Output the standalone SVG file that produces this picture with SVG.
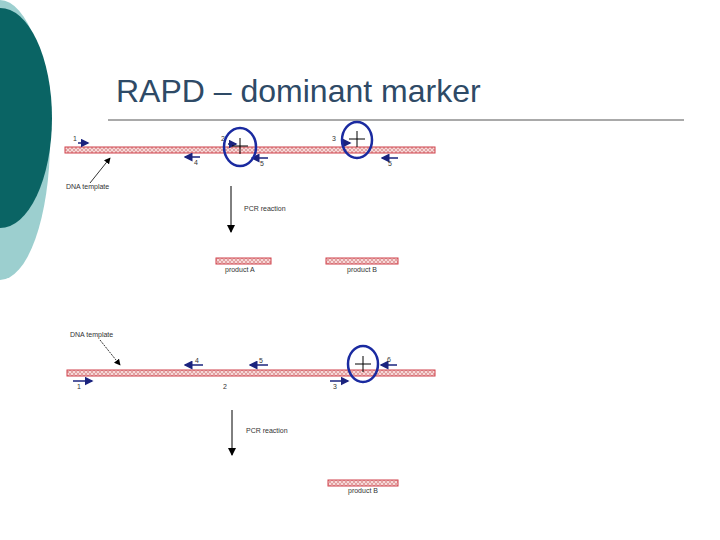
<svg xmlns="http://www.w3.org/2000/svg" width="720" height="540" viewBox="0 0 720 540">
<defs>
<pattern id="hatch" width="4" height="4" patternUnits="userSpaceOnUse"><rect width="4" height="4" fill="#f6d8d8"/><path d="M0,0L4,4M4,0L0,4" stroke="#d98a8a" stroke-width="0.7"/></pattern>
<marker id="ah" markerWidth="6" markerHeight="6" refX="5" refY="3" orient="auto"><path d="M0,0L6,3L0,6z" fill="#1a237e"/></marker>
<marker id="bh" markerWidth="8" markerHeight="8" refX="7" refY="4" orient="auto"><path d="M0,0L8,4L0,8z" fill="#000"/></marker>
</defs>
<style>
.strand{fill:url(#hatch);stroke:#d0404a;stroke-width:1}
.pr{stroke:#1a237e;stroke-width:1.5;marker-end:url(#ah)}
.t{font-family:"Liberation Sans",sans-serif;font-size:7px;fill:#333}
.c{fill:none;stroke:#1a2aa0;stroke-width:2.5}
.plus{stroke:#000;stroke-width:1}
</style>
<rect width="720" height="540" fill="#fff"/>
<ellipse cx="0" cy="140" rx="50" ry="140" fill="#9ccfcf"/>
<ellipse cx="0" cy="118" rx="52" ry="110" fill="#0a6464"/>
<text x="116" y="102" font-family="Liberation Sans,sans-serif" font-size="32" fill="#2e4a66">RAPD – dominant marker</text>
<line x1="108" y1="120" x2="684" y2="120" stroke="#555" stroke-width="1"/>
<g id="top">
<rect class="strand" x="65" y="147" width="370" height="6"/>
<g id="connectors-top">
<line class="pr" x1="78" y1="143" x2="88" y2="143"/>
<line class="pr" x1="200" y1="157" x2="185" y2="157"/>
<line class="pr" x1="228" y1="144" x2="236" y2="144"/>
<line class="pr" x1="268" y1="158" x2="252" y2="158"/>
<line class="pr" x1="343" y1="143" x2="350" y2="143"/>
<line class="pr" x1="398" y1="158" x2="382" y2="158"/>
<line x1="90" y1="183" x2="110" y2="158" stroke="#000" stroke-width="0.8" marker-end="url(#bh)"/>
<line x1="231" y1="186" x2="231" y2="232" stroke="#000" stroke-width="1" marker-end="url(#bh)"/>
</g>
<text class="t" x="73" y="141">1</text><text class="t" x="194" y="165">4</text>
<text class="t" x="221" y="141">2</text><text class="t" x="260" y="166">5</text>
<text class="t" x="332" y="141">3</text><text class="t" x="388" y="166">5</text>
<ellipse class="c" cx="240" cy="147" rx="16" ry="19"/>
<path class="plus" d="M232,146h16M240,138v16"/>
<ellipse class="c" cx="357" cy="140" rx="15" ry="18"/>
<path class="plus" d="M349,139h16M357,131v16"/>
<text class="t" x="66" y="189">DNA template</text>
<text class="t" x="244" y="211">PCR reaction</text>
<rect class="strand" x="216" y="258" width="55" height="6"/>
<text class="t" x="225" y="272">product A</text>
<rect class="strand" x="326" y="258" width="72" height="6"/>
<text class="t" x="347" y="272">product B</text>
</g>
<g id="bottom">
<rect class="strand" x="67" y="370" width="368" height="6"/>
<g id="connectors-bottom">
<line x1="100" y1="340" x2="120" y2="365" stroke="#000" stroke-width="0.8" stroke-dasharray="2,1" marker-end="url(#bh)"/>
<line class="pr" x1="203" y1="365" x2="185" y2="365"/>
<line class="pr" x1="268" y1="365" x2="250" y2="365"/>
<line class="pr" x1="397" y1="365" x2="381" y2="365"/>
<line class="pr" x1="73" y1="381" x2="92" y2="381"/>
<line class="pr" x1="330" y1="381" x2="348" y2="381"/>
<line x1="232" y1="410" x2="232" y2="455" stroke="#000" stroke-width="1" marker-end="url(#bh)"/>
</g>
<text class="t" x="70" y="337">DNA template</text>
<text class="t" x="195" y="363">4</text><text class="t" x="259" y="363">5</text>
<text class="t" x="387" y="362">6</text>
<text class="t" x="77" y="389">1</text><text class="t" x="223" y="389">2</text><text class="t" x="333" y="389">3</text>
<ellipse class="c" cx="363" cy="364" rx="15" ry="18"/>
<path class="plus" d="M355,364h16M363,356v16"/>
<text class="t" x="246" y="433">PCR reaction</text>
<rect class="strand" x="328" y="480" width="70" height="6"/>
<text class="t" x="348" y="493">product B</text>
</g>
</svg>
